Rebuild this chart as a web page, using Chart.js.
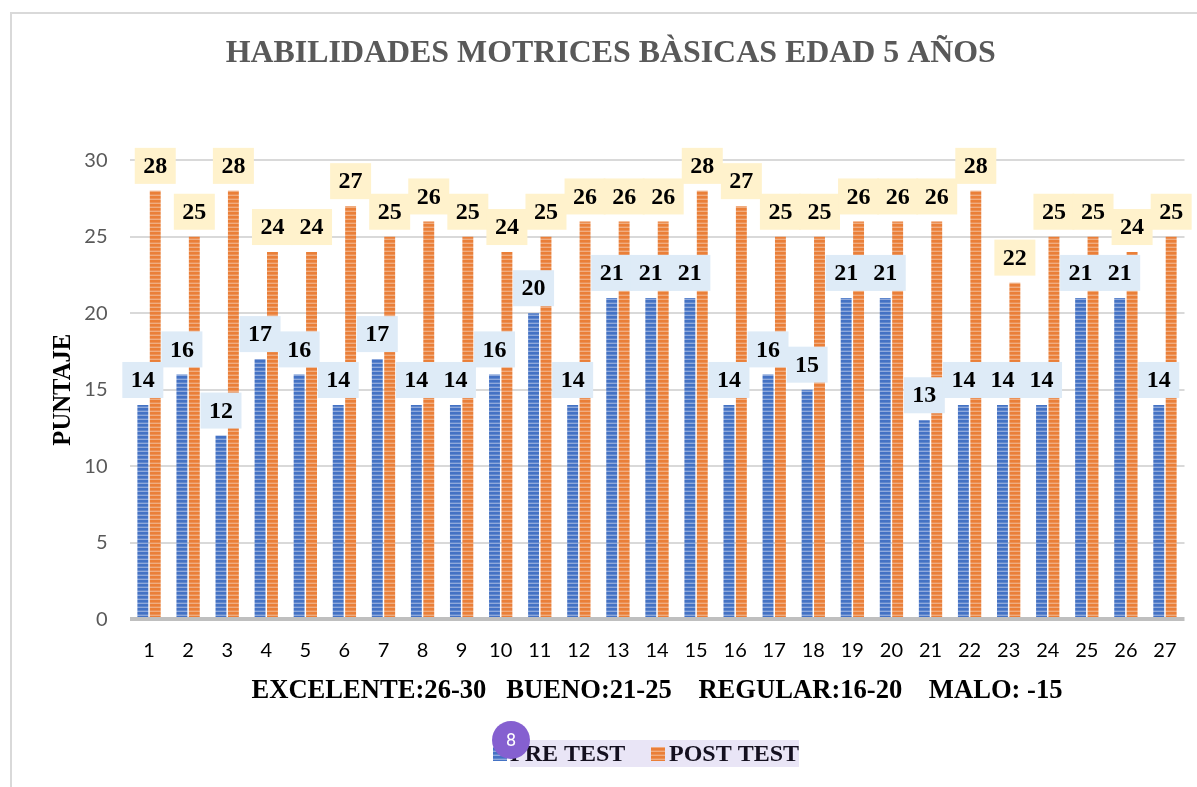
<!DOCTYPE html>
<html>
<head>
<meta charset="utf-8">
<style>
  html, body { margin: 0; padding: 0; background: #fff; overflow: hidden; }
  #card { position: absolute; left: 10px; top: 12px; width: 1187px; height: 775px; border-top: 2px solid #d9d9d9; border-left: 2px solid #d9d9d9; box-sizing: border-box; }
  #wrap { position: absolute; left: 0; top: 0; width: 1197px; height: 787px; }
</style>
<script src="https://cdn.jsdelivr.net/npm/chart.js@4/dist/chart.umd.min.js"></script>
</head>
<body>
<div id="card"></div>
<div id="wrap"><canvas id="chart" width="1197" height="787"></canvas></div>
<script>
const categories = ["1","2","3","4","5","6","7","8","9","10","11","12","13","14","15","16","17","18","19","20","21","22","23","24","25","26","27"];
const preTest = [14,16,12,17,16,14,17,14,14,16,20,14,21,21,21,14,16,15,21,21,13,14,14,14,21,21,14];
const postTest = [28,25,28,24,24,27,25,26,25,24,25,26,26,26,28,27,25,25,26,26,26,28,22,25,25,24,25];
const titleText = "HABILIDADES MOTRICES BÀSICAS EDAD 5 AÑOS";
const scaleNote = "EXCELENTE:26-30   BUENO:21-25    REGULAR:16-20    MALO: -15";
const serif = "'Liberation Serif', serif";

// soft striped fill like the picture's bars
function stripes(color, mid, light) {
  const c = document.createElement("canvas");
  c.width = 4;
  c.height = 4;
  const g = c.getContext("2d");
  g.fillStyle = color;
  g.fillRect(0, 0, 4, 4);
  g.fillStyle = mid;
  g.fillRect(0, 2, 4, 1);
  g.fillStyle = light;
  g.fillRect(0, 3, 4, 1);
  return g.createPattern(c, "repeat");
}

// value boxes above the bars
const valueBoxes = {
  id: "valueBoxes",
  afterDatasetsDraw(chart) {
    const ctx = chart.ctx;
    const fills = ["#deebf7", "#fff2cc"];
    ctx.save();
    ctx.font = "bold 24px " + serif;
    ctx.textAlign = "center";
    ctx.textBaseline = "middle";
    chart.data.datasets.forEach((ds, i) => {
      chart.getDatasetMeta(i).data.forEach((bar, j) => {
        ctx.fillStyle = fills[i];
        ctx.fillRect(bar.x - 20.5, bar.y - 43, 41, 36);
        ctx.fillStyle = "#000";
        ctx.fillText(ds.data[j], bar.x, bar.y - 24);
      });
    });
    ctx.restore();
  }
};

// legend with the swatch tight against the text, on a lavender highlight, and the round badge over it
const legendAndBadge = {
  id: "legendAndBadge",
  afterDraw(chart) {
    const ctx = chart.ctx;
    ctx.save();
    ctx.fillStyle = "#e9e5f6";
    ctx.fillRect(510, 740, 289, 27);
    const swatchX = [493, 651];
    const textX = [510, 669];
    ctx.font = "bold 24px " + serif;
    ctx.textAlign = "left";
    ctx.textBaseline = "middle";
    chart.data.datasets.forEach((ds, i) => {
      ctx.fillStyle = ds.backgroundColor;
      ctx.fillRect(swatchX[i], 747, 14, 14);
      ctx.fillStyle = "#14101f";
      ctx.fillText(ds.label, textX[i], 755);
    });
    ctx.fillStyle = "#8560d0";
    ctx.beginPath();
    ctx.arc(511, 740, 19, 0, Math.PI * 2);
    ctx.fill();
    ctx.fillStyle = "#fff";
    ctx.font = "18px Roboto";
    ctx.textAlign = "center";
    ctx.fillText("8", 511, 741);
    ctx.restore();
  }
};

new Chart(document.getElementById("chart").getContext("2d"), {
  type: "bar",
  data: {
    labels: categories,
    datasets: [
      { label: "PRE TEST", data: preTest, backgroundColor: stripes("#4472c4", "#5f87cd", "#8fa9dc") },
      { label: "POST TEST", data: postTest, backgroundColor: stripes("#ea7f38", "#ec9055", "#f0ad80") }
    ]
  },
  options: {
    responsive: false,
    animation: false,
    categoryPercentage: 0.635,
    barPercentage: 0.88,
    layout: { padding: { left: 37, right: 12.5, top: 35, bottom: 80 } },
    scales: {
      x: {
        grid: { display: false },
        border: { display: false },
        ticks: { color: "#000", font: { family: "Lato", size: 20 }, maxRotation: 0, autoSkip: false, padding: 11 },
        title: { display: true, text: scaleNote, color: "#000", font: { family: serif, size: 26.6, weight: "bold" }, padding: { top: 2, bottom: 0 } }
      },
      y: {
        min: 0,
        max: 30,
        afterFit(scale) { scale.width = 92.5; },
        grid: {
          color: (c) => (c.tick.value === 0 ? "#bfbfbf" : "#d9d9d9"),
          lineWidth: (c) => (c.tick.value === 0 ? 4 : 2),
          drawTicks: false
        },
        border: { display: false },
        ticks: { stepSize: 5, color: "#595959", font: { family: "Lato", size: 20 }, padding: 22 },
        title: { display: true, text: "PUNTAJE", color: "#000", font: { family: serif, size: 24.7, weight: "bold" }, padding: { top: 12, bottom: 0 } }
      }
    },
    plugins: {
      title: {
        display: true,
        text: titleText,
        color: "#595959",
        font: { family: serif, size: 31.9, weight: "bold" },
        padding: { top: 0, bottom: 87 }
      },
      legend: { display: false },
      tooltip: { enabled: false }
    }
  },
  plugins: [valueBoxes, legendAndBadge]
});
</script>
</body>
</html>
